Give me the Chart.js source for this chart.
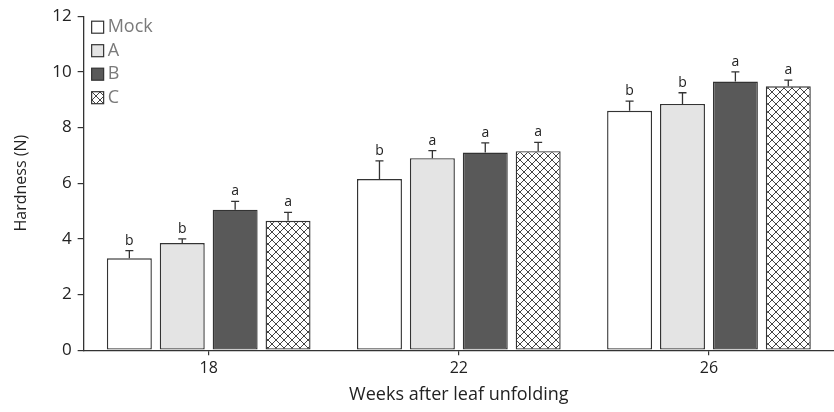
<!DOCTYPE html>
<html><head><meta charset="utf-8">
<script src="https://cdn.jsdelivr.net/npm/chart.js@4.4.1/dist/chart.umd.min.js"></script>
<style>html,body{margin:0;padding:0;background:#fff;}#wrap{width:834px;height:412px;position:relative;}</style>
</head><body><div id="wrap"><canvas id="c" width="834" height="412"></canvas></div>
<script>
const categories = ['18', '22', '26'];
const seriesNames = ['Mock', 'A', 'B', 'C'];
const mockValues = [3.30, 6.15, 8.60];
const aValues = [3.85, 6.90, 8.85];
const bValues = [5.05, 7.10, 9.65];
const cValues = [4.65, 7.15, 9.48];
const mockErr = [0.28, 0.65, 0.35];
const aErr = [0.15, 0.27, 0.40];
const bErr = [0.30, 0.35, 0.35];
const cErr = [0.30, 0.32, 0.22];
const mockLetters = ['b', 'b', 'b'];
const aLetters = ['b', 'a', 'b'];
const bLetters = ['a', 'a', 'a'];
const cLetters = ['a', 'a', 'a'];
const yTicks = [0, 2, 4, 6, 8, 10, 12];

const FONT = "'Open Sans', 'Noto Sans', sans-serif";

function hatch() {
  const s = 8;
  const cv = document.createElement('canvas');
  cv.width = s; cv.height = s;
  const g = cv.getContext('2d');
  g.fillStyle = '#fff'; g.fillRect(0, 0, s, s);
  g.strokeStyle = '#444'; g.lineWidth = 1;
  g.beginPath();
  g.moveTo(0, 0); g.lineTo(s, s);
  g.moveTo(s, 0); g.lineTo(0, s);
  g.stroke();
  return g.createPattern(cv, 'repeat');
}
const ctx0 = document.getElementById('c').getContext('2d');
const fills = ['#ffffff', '#e4e4e4', '#595959', hatch()];
const values = [mockValues, aValues, bValues, cValues];
const errs = [mockErr, aErr, bErr, cErr];
const letters = [mockLetters, aLetters, bLetters, cLetters];

const datasets = seriesNames.map((n, i) => ({
  label: n,
  data: values[i],
  backgroundColor: fills[i],
  borderColor: '#333',
  borderWidth: 1.4,
  borderSkipped: false,
  errors: errs[i],
  letters: letters[i],
  categoryPercentage: 0.846,
  barPercentage: 0.85
}));

const errPlugin = {
  id: 'err',
  afterDatasetsDraw(chart) {
    const ctx = chart.ctx;
    const y = chart.scales.y;
    chart.data.datasets.forEach((ds, di) => {
      const meta = chart.getDatasetMeta(di);
      meta.data.forEach((bar, i) => {
        const top = y.getPixelForValue(ds.data[i] + ds.errors[i]);
        const base = y.getPixelForValue(ds.data[i]);
        ctx.save();
        ctx.strokeStyle = '#333'; ctx.lineWidth = 1.3;
        ctx.beginPath();
        ctx.moveTo(bar.x, base); ctx.lineTo(bar.x, top);
        ctx.moveTo(bar.x - 4, top); ctx.lineTo(bar.x + 4, top);
        ctx.stroke();
        ctx.fillStyle = '#222';
        ctx.font = '14px ' + FONT;
        ctx.textAlign = 'center'; ctx.textBaseline = 'bottom';
        ctx.fillText(ds.letters[i], bar.x, top - 3);
        ctx.restore();
      });
    });
  }
};

const legendPlugin = {
  id: 'customLegend',
  afterDraw(chart) {
    const ctx = chart.ctx;
    const x0 = chart.chartArea.left + 8;
    let yy = chart.chartArea.top + 11;
    chart.data.datasets.forEach((ds) => {
      ctx.save();
      ctx.fillStyle = ds.backgroundColor;
      ctx.fillRect(x0, yy - 6, 12, 12);
      ctx.strokeStyle = '#333'; ctx.lineWidth = 1.2;
      ctx.strokeRect(x0, yy - 6, 12, 12);
      ctx.fillStyle = '#7a7a7a';
      ctx.font = '18px ' + FONT;
      ctx.textAlign = 'left'; ctx.textBaseline = 'middle';
      ctx.fillText(ds.label, x0 + 16, yy);
      ctx.restore();
      yy += 23.5;
    });
  }
};

new Chart(ctx0, {
  type: 'bar',
  data: { labels: categories, datasets },
  options: {
    responsive: false,
    animation: false,
    layout: { padding: { left: 12, right: 0, top: 6, bottom: 4 } },
    plugins: { legend: { display: false }, tooltip: { enabled: false } },
    scales: {
      x: {
        offset: true,
        grid: { display: true, drawOnChartArea: false, offset: false, tickLength: 5, color: '#333', lineWidth: 1.2 },
        border: { display: true, color: '#333', width: 1.3 },
        ticks: { color: '#222', font: { family: FONT, size: 16 }, padding: 4 },
        title: { display: true, text: 'Weeks after leaf unfolding', color: '#222', font: { family: FONT, size: 18 }, padding: { top: 2, bottom: 2 } }
      },
      y: {
        min: 0, max: 12,
        afterBuildTicks(s) { s.ticks = yTicks.map(v => ({ value: v })); },
        grid: { display: true, drawOnChartArea: false, tickLength: 6, color: '#333', lineWidth: 1.2 },
        border: { display: true, color: '#333', width: 1.3 },
        ticks: { color: '#222', font: { family: FONT, size: 17 }, padding: 6 },
        title: { display: true, text: 'Hardness (N)', color: '#222', font: { family: FONT, size: 16 }, padding: { top: 0, bottom: 15 } }
      }
    }
  },
  plugins: [errPlugin, legendPlugin]
});
</script>
</body></html>
